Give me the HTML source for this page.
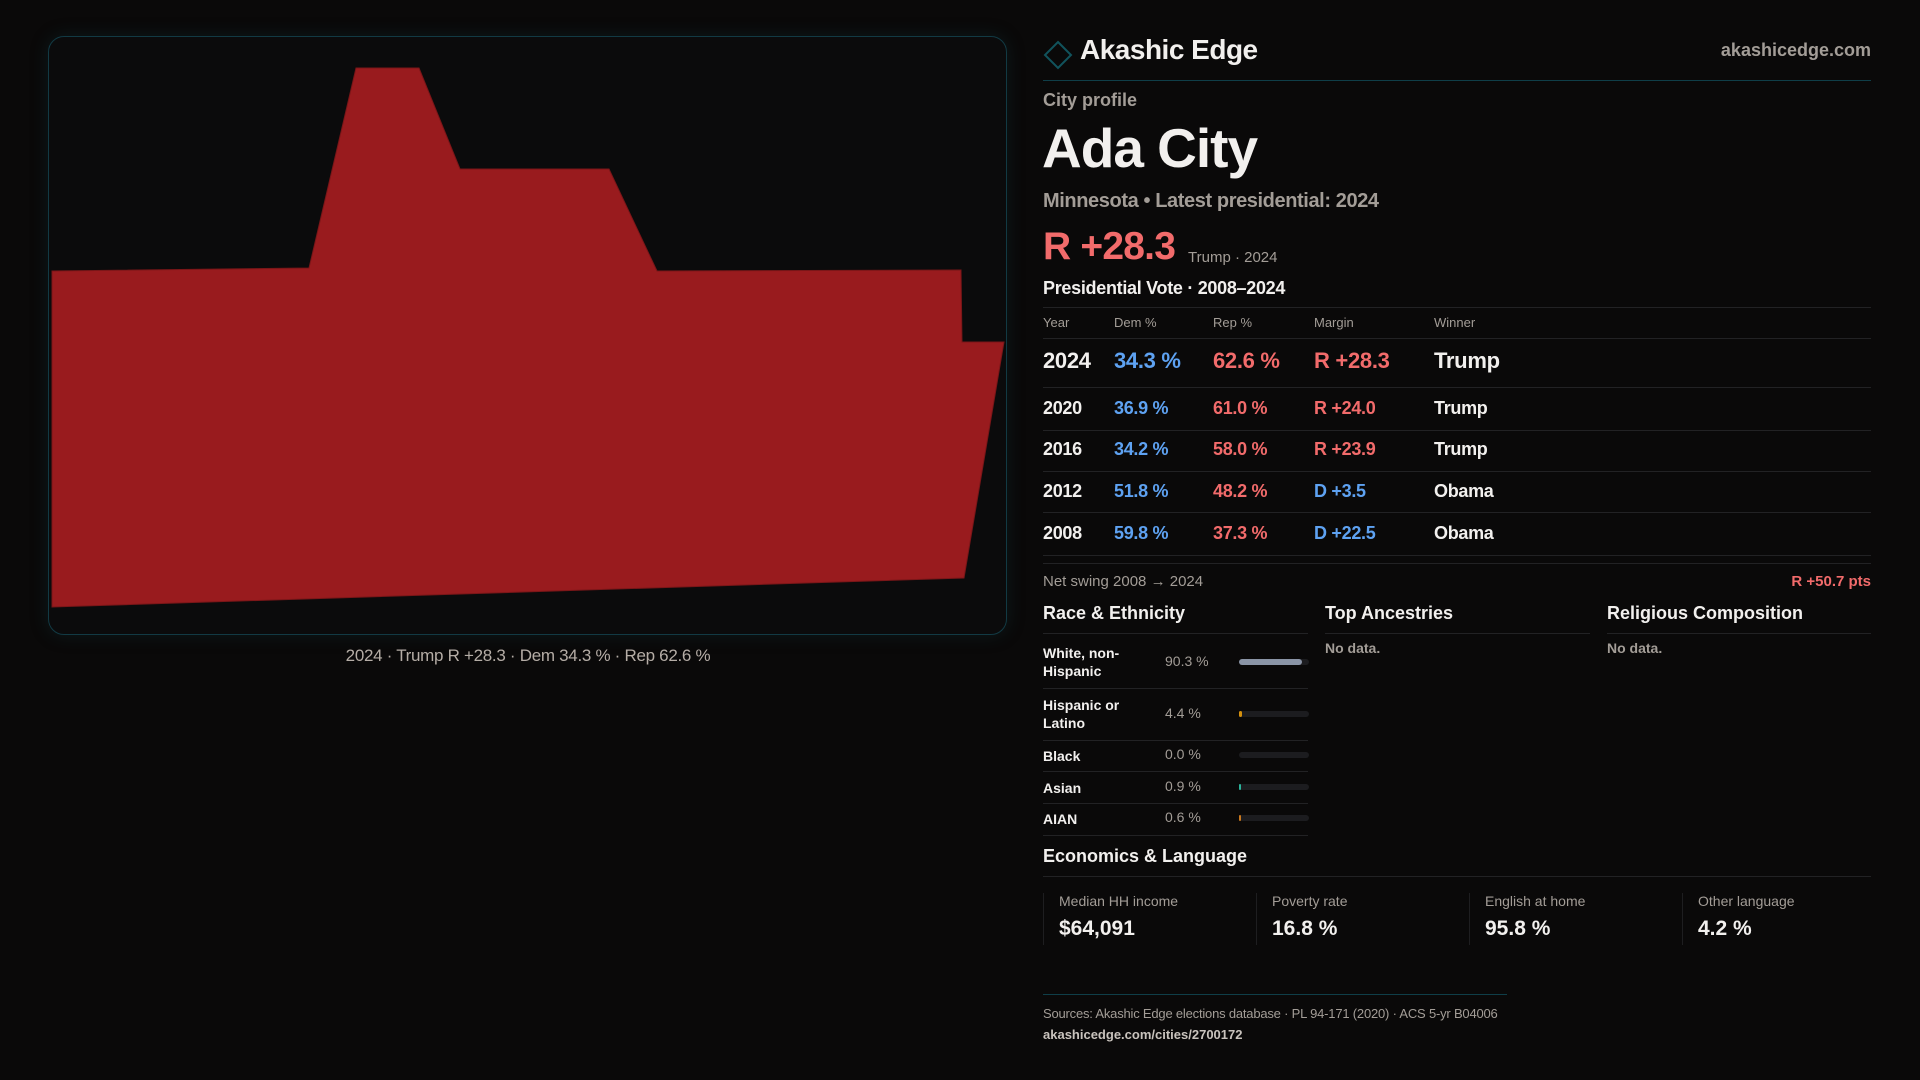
<!DOCTYPE html>
<html><head><meta charset="utf-8"><style>
*{margin:0;padding:0;box-sizing:border-box}
body{width:1920px;height:1080px;background:#0a0909;font-family:"Liberation Sans",sans-serif;position:relative;overflow:hidden;color:#f2f0ee}
.a{position:absolute;white-space:nowrap;line-height:1}
.g{color:#a39d97}
.hl{position:absolute;height:1px;background:#222224}
.blue{color:#5ea2f2}.red{color:#f26b6b}
</style></head><body>
<div style="position:absolute;left:48px;top:36px;width:959px;height:599px;border:1px solid #123a44;border-radius:16px;background:#0b0b0c;box-shadow:0 0 18px rgba(20,70,80,0.25)"></div>
<svg width="1920" height="700" style="position:absolute;left:0;top:0">
<polygon id="shape" fill="#991b1e" stroke="#7a1618" stroke-width="1"></polygon>
</svg>
<div class="a g" style="left:0;width:1056px;text-align:center;top:647px;font-size:17px;color:#b5ada6;letter-spacing:-0.3px">2024 · Trump R +28.3 · Dem 34.3 % · Rep 62.6 %</div>

<svg width="32" height="32" style="position:absolute;left:1042px;top:39px"><polygon points="16,3 29,16 16,29 3,16" fill="none" stroke="#11535c" stroke-width="2"/></svg>
<div class="a" style="left:1080px;top:36px;font-size:28px;font-weight:bold;letter-spacing:-0.5px">Akashic Edge</div>
<div class="a g" style="right:49px;top:41px;font-size:18px;font-weight:bold">akashicedge.com</div>
<div class="hl" style="left:1043px;width:828px;top:80px;background:#0f3e48"></div>
<div class="a g" style="left:1043px;top:91px;font-size:18px;font-weight:bold">City profile</div>
<div class="a" style="left:1042px;top:121px;font-size:55px;font-weight:bold;letter-spacing:-1px">Ada City</div>
<div class="a g" style="left:1043px;top:191px;font-size:20px;font-weight:bold;letter-spacing:-0.4px">Minnesota • Latest presidential: 2024</div>
<div class="a red" style="left:1043px;top:227px;font-size:39px;font-weight:bold;letter-spacing:-0.8px">R +28.3</div>
<div class="a g" style="left:1188px;top:250px;font-size:15px">Trump · 2024</div>
<div class="a" style="left:1043px;top:279px;font-size:18px;font-weight:bold;letter-spacing:-0.3px">Presidential Vote · 2008–2024</div>
<div class="hl" style="left:1043px;width:828px;top:307px"></div>
<div id="tbl"></div>
<div class="a g" style="left:1043px;top:574px;font-size:15px">Net swing 2008 → 2024</div>
<div class="a red" style="right:49px;top:574px;font-size:15px;font-weight:bold">R +50.7 pts</div>

<div class="a" style="left:1043px;top:604px;font-size:18px;font-weight:bold">Race &amp; Ethnicity</div>
<div class="a" style="left:1325px;top:604px;font-size:18px;font-weight:bold">Top Ancestries</div>
<div class="a" style="left:1607px;top:604px;font-size:18px;font-weight:bold">Religious Composition</div>
<div class="hl" style="left:1043px;width:265px;top:633px"></div>
<div class="hl" style="left:1325px;width:265px;top:633px"></div>
<div class="hl" style="left:1607px;width:264px;top:633px"></div>
<div class="a g" style="left:1325px;top:641px;font-size:14px;font-weight:bold">No data.</div>
<div class="a g" style="left:1607px;top:641px;font-size:14px;font-weight:bold">No data.</div>
<div id="race"></div>

<div class="a" style="left:1043px;top:847px;font-size:18px;font-weight:bold">Economics &amp; Language</div>
<div class="hl" style="left:1043px;width:828px;top:876px"></div>
<div id="econ"></div>

<div class="hl" style="left:1043px;width:464px;top:994px;background:#0f3e48"></div>
<div class="a g" style="left:1043px;top:1007px;font-size:13px;letter-spacing:-0.2px">Sources: Akashic Edge elections database · PL 94-171 (2020) · ACS 5-yr B04006</div>
<div class="a g" style="left:1043px;top:1028px;font-size:13px;font-weight:bold;color:#c9c3bd">akashicedge.com/cities/2700172</div>

<script>
const shapeX=[52,309,356,419,460,609,657,961,962,1004,964,52];
const shapeY=[271,268,68,68,169,169,271,270,342,342,578,607];
document.getElementById('shape').setAttribute('points',shapeX.map((x,i)=>x+','+shapeY[i]).join(' '));

const years=["2024","2020","2016","2012","2008"];
const demPct=[34.3,36.9,34.2,51.8,59.8];
const repPct=[62.6,61.0,58.0,48.2,37.3];
const margins=["R +28.3","R +24.0","R +23.9","D +3.5","D +22.5"];
const winners=["Trump","Trump","Trump","Obama","Obama"];
const tbl=document.getElementById('tbl');
const cols=[1043,1114,1213,1314,1434];
const heads=["Year","Dem %","Rep %","Margin","Winner"];
heads.forEach((h,i)=>{const d=document.createElement('div');d.className='a g';


d.style.cssText=`left:${cols[i]}px;top:316px;font-size:13px`;d.textContent=h;tbl.appendChild(d);});
const hr0=document.createElement('div');hr0.className='hl';hr0.style.cssText='left:1043px;width:828px;top:338px';


tbl.appendChild(hr0);
const rowC=[361,408,449,491,533], rowL=[387,430,471,512,555];
years.forEach((y,r)=>{
 const fs=r===0?22:18;
 const mt=margins[r];
 const isR=mt[0]==='R';
 const vals=[[y,'#f2f0ee'],[demPct[r].toFixed(1)+' %','#5ea2f2'],[repPct[r].toFixed(1)+' %','#f26b6b'],[mt,isR?'#f26b6b':'#5ea2f2'],[winners[r],'#f2f0ee']];
 vals.forEach((v,i)=>{const d=document.createElement('div');d.className='a';
 
 
 d.style.cssText=`left:${cols[i]}px;top:${rowC[r]-fs/2}px;font-size:${fs}px;font-weight:bold;letter-spacing:-0.3px;color:${v[1]}`;d.textContent=v[0];tbl.appendChild(d);});
 const hr=document.createElement('div');hr.className='hl';hr.style.cssText=`left:1043px;width:828px;top:${rowL[r]}px`;
 
 
 tbl.appendChild(hr);
});
const hrE=document.createElement('div');hrE.className='hl';hrE.style.cssText='left:1043px;width:828px;top:563px';


tbl.appendChild(hrE);

const raceLabels=["White, non-<br>Hispanic","Hispanic or<br>Latino","Black","Asian","AIAN"];
const racePct=[90.3,4.4,0.0,0.9,0.6];
const raceColors=["#8a94a6","#d4900e","#888","#2bb39a","#c9781e"];
const raceC=[662,714,755,787,818], raceL=[688,740,771,803,835];
const race=document.getElementById('race');
raceLabels.forEach((l,i)=>{
 const two=l.indexOf('<br>')>0;
 const d=document.createElement('div');d.className='a';
 
 
 d.style.cssText=`left:1043px;top:${raceC[i]-(two?18:8)}px;font-size:14px;font-weight:bold;line-height:18px`;d.innerHTML=l;race.appendChild(d);
 const v=document.createElement('div');v.className='a g';
 
 
 v.style.cssText=`left:1165px;top:${raceC[i]-8}px;font-size:14px`;v.textContent=racePct[i].toFixed(1)+' %';race.appendChild(v);
 const t=document.createElement('div');
 
 
 t.style.cssText=`position:absolute;left:1239px;top:${raceC[i]-3}px;width:70px;height:6px;border-radius:3px;background:#1c1c1f`;
 const f=document.createElement('div');
 
 
 f.style.cssText=`width:${Math.max(racePct[i]>0?1.5:0,racePct[i]/100*70)}px;height:6px;border-radius:3px;background:${raceColors[i]}`;
 t.appendChild(f);race.appendChild(t);
 const hr=document.createElement('div');hr.className='hl';hr.style.cssText=`left:1043px;width:265px;top:${raceL[i]}px`;
 
 
 race.appendChild(hr);
});

const econLabels=["Median HH income","Poverty rate","English at home","Other language"];
const econValues=["$64,091","16.8 %","95.8 %","4.2 %"];
const econ=document.getElementById('econ');
econLabels.forEach((l,i)=>{
 const x=1043+i*213;
 const c=document.createElement('div');
 
 
 c.style.cssText=`position:absolute;left:${x}px;top:893px;width:213px;height:52px;border-left:1px solid #1e1e20`;
 econ.appendChild(c);
 const a=document.createElement('div');a.className='a g';
 
 
 a.style.cssText=`left:${x+16}px;top:894px;font-size:14px`;a.textContent=l;econ.appendChild(a);
 const b=document.createElement('div');b.className='a';
 
 
 b.style.cssText=`left:${x+16}px;top:918px;font-size:21px;font-weight:bold`;b.textContent=econValues[i];econ.appendChild(b);
});
</script>
</body></html>
